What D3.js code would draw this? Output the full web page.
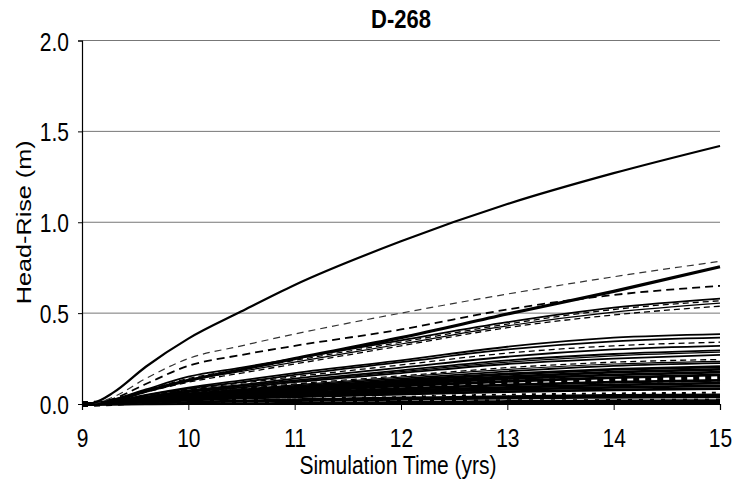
<!DOCTYPE html>
<html><head><meta charset="utf-8">
<script src="https://cdn.jsdelivr.net/npm/d3@7"></script>
<style>body{margin:0;background:#fff}svg{display:block}text{font-family:"Liberation Sans",Arial,sans-serif}</style>
</head><body><svg id="c" width="733" height="486"></svg>
<script>
const title = "D-268";
const xLabel = "Simulation Time (yrs)";
const yLabel = "Head-Rise (m)";
const xTicks = [9, 10, 11, 12, 13, 14, 15];
const yTicks = [0.0, 0.5, 1.0, 1.5, 2.0];
const times = [9, 9.1, 9.3, 9.6, 10, 10.5, 11, 12, 13, 14, 15];

const sTop   = [0, 0.005, 0.065, 0.205, 0.36, 0.51, 0.655, 0.895, 1.10, 1.27, 1.42];
const sDash1 = [0, 0.003, 0.04, 0.14, 0.25, 0.32, 0.385, 0.50, 0.605, 0.70, 0.785];
const sThick = [0, 0.002, 0.02, 0.07, 0.13, 0.19, 0.25, 0.365, 0.495, 0.62, 0.755];
const sDash2 = [0, 0.003, 0.03, 0.11, 0.21, 0.27, 0.32, 0.41, 0.52, 0.60, 0.65];
const sA1 = [0, 0.002, 0.025, 0.08, 0.15, 0.20, 0.25, 0.35, 0.45, 0.53, 0.58];
const sA2 = [0, 0.002, 0.022, 0.075, 0.14, 0.19, 0.24, 0.34, 0.44, 0.52, 0.568];
const sA3 = [0, 0.002, 0.020, 0.070, 0.13, 0.18, 0.23, 0.33, 0.43, 0.505, 0.555];
const sA4 = [0, 0.002, 0.018, 0.065, 0.12, 0.17, 0.22, 0.32, 0.42, 0.49, 0.538];
const sL1 = [0, 0.002, 0.015, 0.050, 0.09, 0.13, 0.17, 0.24, 0.315, 0.365, 0.385];
const sL2 = [0, 0.002, 0.014, 0.048, 0.085, 0.12, 0.16, 0.23, 0.30, 0.345, 0.365];
const sL3 = [0, 0.002, 0.013, 0.045, 0.08, 0.115, 0.15, 0.215, 0.28, 0.32, 0.34];
const sL4 = [0, 0.001, 0.012, 0.040, 0.075, 0.105, 0.14, 0.20, 0.26, 0.30, 0.32];
const sL5 = [0, 0.001, 0.011, 0.037, 0.07, 0.10, 0.13, 0.185, 0.24, 0.275, 0.295];
const sL5b = [0, 0.001, 0.010, 0.035, 0.067, 0.095, 0.125, 0.178, 0.23, 0.265, 0.285];
const sL6 = [0, 0.001, 0.010, 0.034, 0.065, 0.09, 0.12, 0.17, 0.22, 0.25, 0.27];
const sL7 = [0, 0.001, 0.009, 0.030, 0.06, 0.085, 0.11, 0.155, 0.20, 0.23, 0.245];
const sL7b = [0, 0.001, 0.009, 0.029, 0.057, 0.081, 0.105, 0.148, 0.19, 0.22, 0.235];
const sL8 = [0, 0.001, 0.008, 0.028, 0.055, 0.078, 0.10, 0.14, 0.18, 0.21, 0.225];
const sL9 = [0, 0.001, 0.008, 0.026, 0.05, 0.072, 0.092, 0.13, 0.165, 0.19, 0.205];
const sL10 = [0, 0.001, 0.007, 0.024, 0.046, 0.066, 0.085, 0.12, 0.15, 0.175, 0.19];
const sL11 = [0, 0.001, 0.007, 0.022, 0.042, 0.06, 0.078, 0.11, 0.14, 0.16, 0.175];
const sL12 = [0, 0.001, 0.006, 0.020, 0.038, 0.055, 0.07, 0.10, 0.125, 0.145, 0.16];
const sQ1 = [0, 0.001, 0.006, 0.018, 0.045, 0.07, 0.085, 0.10, 0.12, 0.13, 0.14];
const sL13 = [0, 0.001, 0.005, 0.016, 0.032, 0.048, 0.06, 0.085, 0.105, 0.12, 0.13];
const sL14 = [0, 0.001, 0.005, 0.014, 0.028, 0.042, 0.052, 0.075, 0.092, 0.105, 0.115];
const sL15 = [0, 0.001, 0.004, 0.012, 0.025, 0.036, 0.046, 0.065, 0.08, 0.092, 0.10];
const sL16 = [0, 0.001, 0.004, 0.011, 0.022, 0.032, 0.04, 0.055, 0.068, 0.078, 0.085];
const sW1  = [0, 0.001, 0.003, 0.010, 0.020, 0.028, 0.035, 0.048, 0.062, 0.072, 0.077];
const sQ2 = [0, 0.001, 0.003, 0.008, 0.016, 0.024, 0.03, 0.042, 0.052, 0.058, 0.062];
const sL17 = [0, 0.001, 0.003, 0.007, 0.013, 0.019, 0.024, 0.033, 0.041, 0.047, 0.05];
const sL18 = [0, 0.000, 0.002, 0.006, 0.011, 0.015, 0.019, 0.026, 0.032, 0.037, 0.04];
const sW2  = [0, 0.000, 0.002, 0.005, 0.009, 0.012, 0.015, 0.020, 0.025, 0.028, 0.03];
const sL19 = [0, 0.000, 0.001, 0.004, 0.007, 0.009, 0.011, 0.015, 0.018, 0.020, 0.022];
const sL20 = [0, 0.000, 0.001, 0.002, 0.004, 0.005, 0.006, 0.008, 0.010, 0.011, 0.012];
const sL21 = [0, 0.000, 0.000, 0.001, 0.002, 0.002, 0.003, 0.004, 0.004, 0.005, 0.005];

const seriesList = [
  [sL21,"t"],[sL20,"t"],[sL19,"t"],[sW2,"w"],[sL18,"t"],[sL17,"t"],[sQ2,"q2"],[sW1,"w"],
  [sL16,"t"],[sL15,"t"],[sL14,"t"],[sL13,"t"],[sQ1,"q"],[sL12,"t"],[sL11,"t"],[sL10,"t"],[sL9,"t"],
  [sL8,"m"],[sL7b,"s"],[sL7,"d"],[sL6,"m"],[sL5b,"s"],[sL5,"m"],[sL4,"m"],[sL3,"d"],[sL2,"m"],[sL1,"m"],
  [sA4,"d"],[sA3,"s"],[sA2,"d"],[sA1,"m"],[sDash2,"d2"],[sThick,"T"],[sDash1,"d1"],[sTop,"top"]
];

const styles = {
  s:{w:1.2,c:"#000",da:null},
  m:{w:1.8,c:"#000",da:null},
  t:{w:2.8,c:"#000",da:null},
  d:{w:1.3,c:"#000",da:"6,4"},
  d1:{w:1.2,c:"#333",da:"7,5"},
  d2:{w:1.8,c:"#000",da:"8,5"},
  T:{w:3.2,c:"#000",da:null},
  top:{w:2.2,c:"#000",da:null},
  q:{w:6,c:"#000",da:"6,6"},
  q2:{w:2,c:"#000",da:"4,6"},
  w:{w:1.3,c:"#fff",da:"7,4"}
};

const svg = d3.select("#c");
const m = {l:82, r:720, t:40.5, b:404};
const x = d3.scaleLinear().domain([9,15]).range([m.l, m.r]);
const y = d3.scaleLinear().domain([0,2]).range([m.b, m.t]);

svg.append("g").selectAll("line").data(yTicks.filter(v=>v>0)).join("line")
  .attr("x1", m.l).attr("x2", m.r).attr("y1", d=>y(d)).attr("y2", d=>y(d))
  .attr("stroke", "#777").attr("stroke-width", 1);

const line = d3.line().x((d,i)=>x(times[i])).y(d=>y(d)).curve(d3.curveMonotoneX);
const gL = svg.append("g");
seriesList.forEach(([vals, st])=>{
  const s = styles[st];
  gL.append("path").attr("d", line(vals)).attr("fill","none")
    .attr("stroke", s.c).attr("stroke-width", s.w)
    .attr("stroke-dasharray", s.da);
});

const font = '"Liberation Sans",Arial,sans-serif';
const SY = 1.2;
const xa = svg.append("g").attr("transform", `translate(0,${m.b})`)
  .call(d3.axisBottom(x).tickValues(xTicks).tickFormat(d3.format("d")).tickSize(6));
const ya = svg.append("g").attr("transform", `translate(${m.l},0)`)
  .call(d3.axisLeft(y).tickValues(yTicks).tickFormat(d3.format(".1f")).tickSize(4));
[xa, ya].forEach(a=>{
  a.select(".domain").attr("stroke","#000").attr("stroke-width",1.2);
  a.selectAll(".tick line").attr("stroke","#000");
  a.selectAll("text").attr("font-size",21).attr("fill","#000").style("font-family",font)
    .attr("x",null).attr("y",null).attr("dy",null);
});
xa.selectAll("text").attr("transform", `translate(0,43) scale(1,${SY})`);
ya.selectAll("text").attr("transform", `translate(-13,9.5) scale(1,${SY})`);

svg.append("text").attr("transform", `translate(401,28) scale(1,1.15)`).attr("text-anchor","middle")
  .attr("font-size", 22).attr("font-weight","bold").text(title);
svg.append("text").attr("transform", `translate(398,474) scale(1,${SY})`).attr("text-anchor","middle")
  .attr("font-size", 21).text(xLabel);
svg.append("text").attr("transform", `translate(31,${(m.t+m.b)/2}) rotate(-90) scale(${SY},1)`)
  .attr("text-anchor","middle").attr("font-size", 21).text(yLabel);
</script></body></html>
